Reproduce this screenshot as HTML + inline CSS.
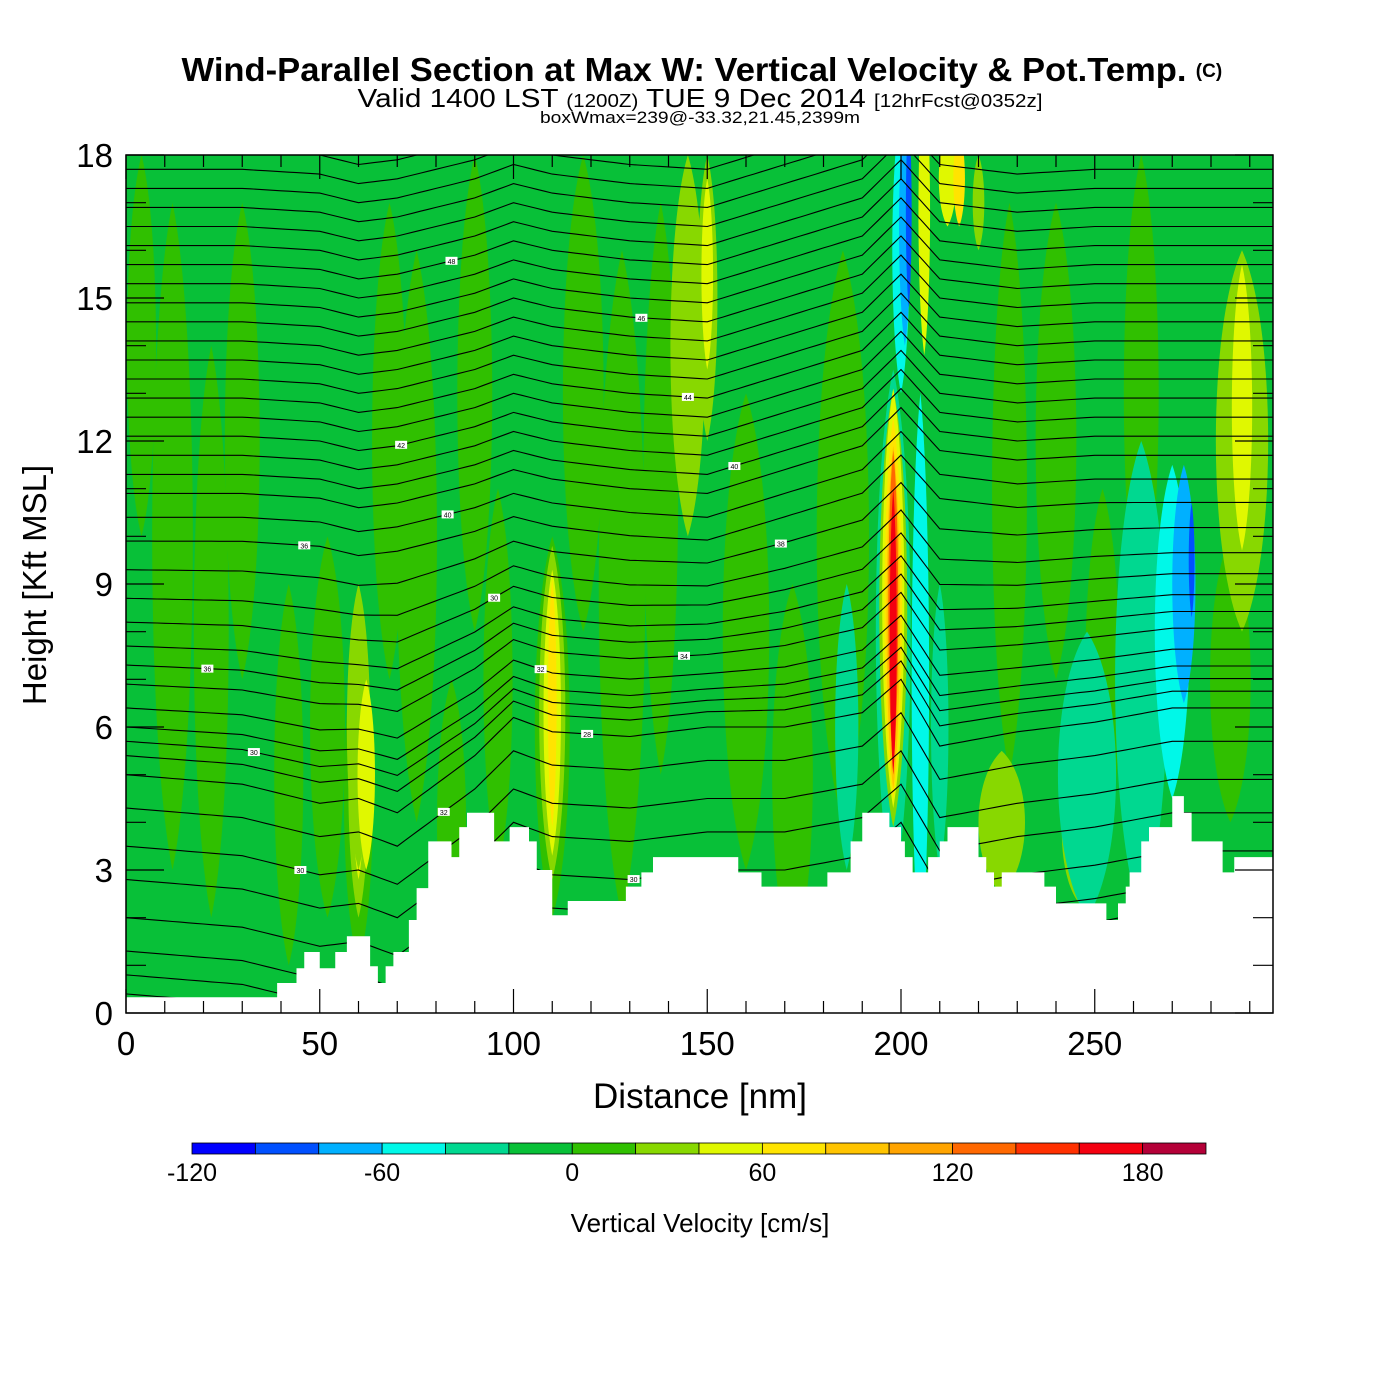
<!DOCTYPE html>
<html><head><meta charset="utf-8"><style>
body{margin:0;background:#fff;width:1400px;height:1400px;overflow:hidden;font-family:"Liberation Sans",Arial,sans-serif}
svg{position:absolute;left:0;top:0}
</style></head><body>
<svg id="chart" width="1400" height="1400" viewBox="0 0 1400 1400">
<defs><clipPath id="pc"><rect x="126" y="155" width="1147" height="858"/></clipPath></defs>
<text x="684" y="81" text-anchor="middle" font-size="33" font-weight="bold" textLength="1005" lengthAdjust="spacingAndGlyphs">Wind-Parallel Section at Max W: Vertical Velocity &amp; Pot.Temp.</text>
<text x="1209" y="77" text-anchor="middle" font-size="19" font-weight="bold">(C)</text>
<text x="700" y="107" text-anchor="middle" font-size="26" textLength="685" lengthAdjust="spacingAndGlyphs">Valid 1400 LST <tspan font-size="18">(1200Z)</tspan> TUE 9 Dec 2014 <tspan font-size="18">[12hrFcst@0352z]</tspan></text>
<text x="700" y="123" text-anchor="middle" font-size="17" textLength="320" lengthAdjust="spacingAndGlyphs">boxWmax=239@-33.32,21.45,2399m</text>
<g id="plot" clip-path="url(#pc)"></g>
<g id="axes"></g>
<g id="cbar"></g>
</svg>
<script>
const colors=["#0000ff","#0050ff","#00b0ff","#00f8e8","#00d890","#08c038","#30c000","#88d800","#e0f800","#ffe400","#ffc400","#ffa400","#ff6800","#ff3000","#f40010","#b40038"];
const cbarTicks=[-120,-60,0,60,120,180];
const xTicks=[0,50,100,150,200,250];
const yTicks=[0,3,6,9,12,15,18];
// blobs: [distNm, centerKft, halfWidthNm, halfHeightKft, colorIndex]
const blobDist=[12,30,52,75,90,128,160,185,240,262,285, 22,42,68,84,118,138,172,228,252,4,96,
 60,60,60,110,110,110,110,145,150,150, 226,246,288,288,288, 248,262,270,273,273,275, 186,205,210,212, 198,198,198,198,198,198,198, 200,201,202, 206,205,215,220,60,62];
const blobKft=[10,12,6,10,13,9,8,10,12,13,7, 8,5,12,4,13,11,5,11,7,14,7,
 4.5,4.8,4.8,6,6.3,6.3,6.5,14,15,15.5, 4,3.8,12,12.5,12.7, 5,7,8,9,9.3,9.5, 6,7,6,17.5, 8,8.5,8.7,8.5,8.3,8.5,8, 16,16.5,16.8, 16.8,5.5,17.5,17, 6,5];
const blobHw=[7,6,6,7,6,8,8,9,7,6,7, 6,5,6,5,7,6,7,6,6,5,5,
 5,3.5,2,6,4.5,3,1.5,6,3.5,2, 8,6,9,6,3.5, 10,9,6,4,2.5,1, 4,3,3,3, 6,4.8,3.8,3,2.3,1.7,1.2, 3,2,1, 2,2,2,2, 4,3];
const blobHh=[7,5,4,6,5,7,5,6,5,5,3, 6,4,5,3,5,6,4,6,4,4,4,
 3.5,2.8,2,4,3.5,3,2.6,4,3,2, 1.5,1.5,4,3.5,3, 3,5,3.5,2.5,1.8,1.2, 3,6,3,1, 5.5,4.6,4.4,4,3.6,3.3,3, 3,2.5,2, 3,2,1,1, 3,2];
const blobCol=[6,6,6,6,6,6,6,6,6,6,6, 6,6,6,6,6,6,6,6,6,6,6,
 6,7,8,6,7,8,9,7,7,8, 7,7,7,7,8, 4,4,3,2,2,1, 4,3,4,8, 4,7,8,9,10,12,14, 3,2,1, 8,3,9,7, 7,8];
// terrain steps: start distance (nm) and height (kft)
const terrDist=[0,36,39,44,46,50,54,57,63,65,67,69,73,75,78,84,86,88,89,95,99,104,106,110,110.5,114,119,129,133,136,158,164,178,181,187,190,197,200,201,203,207,210,212,220,222,224,226,231,237,240,248,253,256,258,259,262,264,270,273,275,283,286,296];
const terrKft=[0.33,0.33,0.63,0.94,1.28,0.94,1.28,1.61,0.98,0.63,0.98,1.28,1.95,2.62,3.6,3.27,3.9,4.2,4.2,3.6,3.9,3.6,3.0,2.05,2.05,2.35,2.35,2.65,2.95,3.27,2.95,2.65,2.65,2.95,3.6,4.2,3.9,3.6,3.27,2.95,3.27,3.6,3.9,3.27,2.95,2.65,2.95,2.95,2.65,2.3,2.3,1.95,2.3,2.65,2.95,3.6,3.9,4.55,4.2,3.6,2.95,3.27,2.95];
// theta contour levels (left-edge height kft) and displacement profiles
const levelKft=[0.4,0.8,1.3,2.0,2.8,3.5,4.3,5.0,5.4,5.7,6.0,6.4,6.9,7.3,7.7,8.2,8.7,9.3,9.9,10.4,10.9,11.3,11.7,12.1,12.5,12.9,13.3,13.7,14.1,14.5,14.9,15.3,15.7,16.1,16.5,16.9,17.3,17.7,18.1];
const levelLabels=["","","","30","","30","32","28","","30","","32","34","36","","30","","38","36","40","","40","","42","","44","","","","46","","","48","","","","","",""];
const anchorDist=[0,30,50,60,70,90,100,110,130,150,170,190,200,210,230,250,270,296];
const dispUpper=[0,0,-0.1,-0.3,-0.2,0.2,0.5,0.3,0.1,0,0.5,1.0,1.8,0.9,0.7,0.8,0.8,0.8];
const dispLower=[0,-0.2,-0.6,-0.5,-0.8,0.4,1.2,0.9,0.8,1.0,1.0,1.3,2.0,0.6,0.9,1.1,1.4,1.4];

const X0=126,X1=1273,Y0=1013,Y1=155,XMAX=296,YMAX=18;
const sx=d=>X0+d*(X1-X0)/XMAX, sy=k=>Y0-k*(Y0-Y1)/YMAX;
const NS="http://www.w3.org/2000/svg";
function mk(tag,attrs,parent){const e=document.createElementNS(NS,tag);for(const k in attrs)e.setAttribute(k,attrs[k]);parent.appendChild(e);return e;}
const plot=document.getElementById('plot');
const bg=mk('rect',{x:X0,y:Y1,width:X1-X0,height:Y0-Y1,fill:colors[5]},plot);


for(let i=0;i<blobDist.length;i++){
  const cx=sx(blobDist[i]),cy=sy(blobKft[i]);
  const rx=blobHw[i]*(X1-X0)/XMAX, ry=blobHh[i]*(Y0-Y1)/YMAX;
  const p=`M${cx},${cy-ry} C${cx+rx},${cy-ry*0.6} ${cx+rx},${cy+ry*0.6} ${cx},${cy+ry} C${cx-rx},${cy+ry*0.6} ${cx-rx},${cy-ry*0.6} ${cx},${cy-ry}Z`;
  const e=mk('path',{d:p,fill:colors[blobCol[i]]},plot);
  
  
}
function interp(arr,d){for(let i=0;i<anchorDist.length-1;i++){if(d<=anchorDist[i+1]){const t=(d-anchorDist[i])/(anchorDist[i+1]-anchorDist[i]);return arr[i]+t*(arr[i+1]-arr[i]);}}return arr[arr.length-1];}
levelKft.forEach((h,li)=>{
  const w=Math.max(0,Math.min(1,(h-5)/5));
  let pts=[];
  for(let d=0;d<=XMAX;d+=2){const off=w*interp(dispUpper,d)+(1-w)*interp(dispLower,d);pts.push(sx(d).toFixed(1)+','+sy(h+off).toFixed(1));}
  const l=mk('polyline',{points:pts.join(' '),fill:'none',stroke:'#000','stroke-width':1.1},plot);
  
  
  if(levelLabels[li]){const d=20+(li*37)%160;const off=w*interp(dispUpper,d)+(1-w)*interp(dispLower,d);
    const r=mk('rect',{x:sx(d)-6,y:sy(h+off)-4,width:12,height:8,fill:'#fff'},plot);
    
    const t=mk('text',{x:sx(d),y:sy(h+off)+3,'font-size':7,'text-anchor':'middle'},plot);t.textContent=levelLabels[li];
    }
});
let tp=`M${sx(0)},${Y0+2}`;
for(let i=0;i<terrDist.length;i++){const x0=sx(terrDist[i]),x1=i+1<terrDist.length?sx(terrDist[i+1]):X1+2;tp+=` L${x0},${sy(terrKft[i])} L${x1},${sy(terrKft[i])}`;}
tp+=` L${X1+2},${Y0+2}Z`;
const terr=mk('path',{d:tp,fill:'#fff'},plot);



const ax=document.getElementById('axes');
const fr=mk('rect',{x:X0,y:Y1,width:X1-X0,height:Y0-Y1,fill:'none',stroke:'#000','stroke-width':1.5},ax);

for(let d=0;d<=290;d+=10){const maj=d%50==0;const L=maj?24:12;
  mk('line',{x1:sx(d),x2:sx(d),y1:Y0,y2:Y0-L,stroke:'#000','stroke-width':1.2},ax);
  mk('line',{x1:sx(d),x2:sx(d),y1:Y1,y2:Y1+L,stroke:'#000','stroke-width':1.2},ax);}
for(let k=0;k<=18;k+=1){const maj=k%3==0;const L=maj?38:20;
  mk('line',{x1:X0,x2:X0+L,y1:sy(k),y2:sy(k),stroke:'#000','stroke-width':1.2},ax);
  mk('line',{x1:X1,x2:X1-L,y1:sy(k),y2:sy(k),stroke:'#000','stroke-width':1.2},ax);}
xTicks.forEach(v=>{const t=mk('text',{x:sx(v),y:1055,'font-size':33,'text-anchor':'middle'},ax);t.textContent=v;
  });
yTicks.forEach(v=>{const t=mk('text',{x:113,y:sy(v)+12,'font-size':33,'text-anchor':'end'},ax);t.textContent=v;
  });
const xt=mk('text',{x:700,y:1108,'font-size':35,'text-anchor':'middle'},ax);xt.textContent='Distance [nm]';

const yt=mk('text',{x:46,y:585,'font-size':33,'text-anchor':'middle',transform:'rotate(-90 46 585)'},ax);yt.textContent='Height [Kft MSL]';


const cb=document.getElementById('cbar');
const CB0=192,CB1=1206,cw=(CB1-CB0)/colors.length;
colors.forEach((c,i)=>{const r=mk('rect',{x:CB0+i*cw,y:1143,width:cw,height:11,fill:c,stroke:'#000','stroke-width':0.8},cb);
  });
cbarTicks.forEach(v=>{const t=mk('text',{x:CB0+(v+120)/20*cw,y:1181,'font-size':25,'text-anchor':'middle'},cb);t.textContent=v;
  });
const ct=mk('text',{x:700,y:1232,'font-size':26,'text-anchor':'middle'},cb);ct.textContent='Vertical Velocity [cm/s]';

</script>
</body></html>
